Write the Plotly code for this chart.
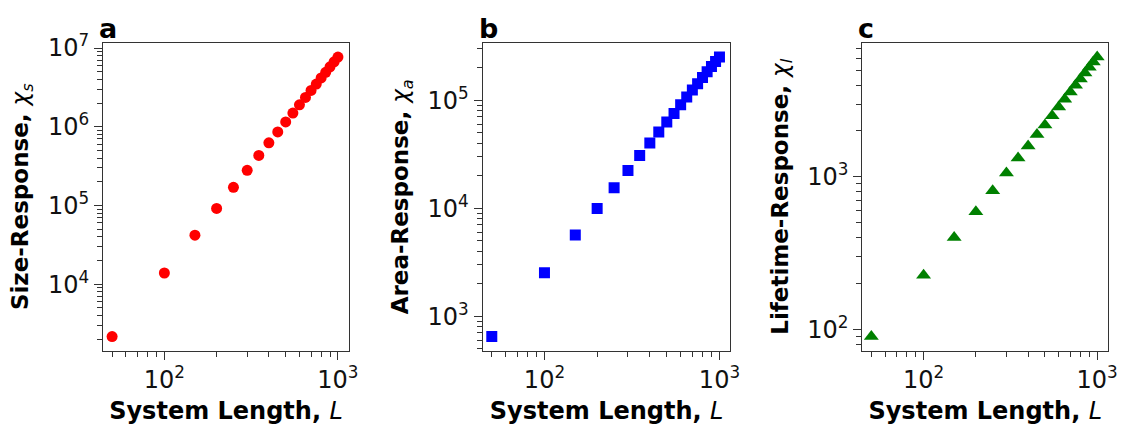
import math
import plotly.graph_objects as go

# ---- data ----
system_length = [50, 100, 150, 200, 250, 300, 350, 400, 450, 500,
                 550, 600, 650, 700, 750, 800, 850, 900, 950, 1000]
size_response = [2170, 13900, 42000, 91800, 170000, 280000, 432000, 625000, 861000, 1150000,
                 1490000, 1900000, 2360000, 2890000, 3490000, 4170000, 4920000, 5760000, 6680000, 7680000]
area_response = [649, 2530, 5650, 9930, 15500, 22400, 30700, 40100, 50700, 62700,
                 75400, 91000, 107000, 124000, 142000, 162000, 183000, 205000, 228000, 251000]
lifetime_response = [89.6, 226, 400, 591, 809, 1060, 1327, 1596, 1893, 2190,
                     2520, 2870, 3230, 3600, 3990, 4390, 4800, 5230, 5660, 6110]

panel_letters = ["a", "b", "c"]
y_titles = ["<b>Size-Response, </b><i>χ<sub>s</sub></i>",
            "<b>Area-Response, </b><i>χ<sub>a</sub></i>",
            "<b>Lifetime-Response, </b><i>χ<sub>l</sub></i>"]
x_title = "<b>System Length, </b><i>L</i>"
series = [size_response, area_response, lifetime_response]
colors = ["#ff0000", "#0000ff", "#008000"]
symbols = ["circle", "square", "triangle-up"]
marker_sizes = [11, 11, 13]

W, H = 1133, 431
FONT = "DejaVu Sans"
AX = "#333333"

x_domains = [(104, 352), (487, 737), (870, 1118)]
y_top, y_bot = 31, 348
x_range = [1.647, 3.063]


def pad_range(vals):
    lo, hi = math.log10(min(vals)), math.log10(max(vals))
    s = hi - lo
    return [lo - 0.05 * s, hi + 0.05 * s]


def decade_ticks(rng):
    lo, hi = math.floor(rng[0]), math.ceil(rng[1])
    major = [10 ** e for e in range(lo, hi + 1) if rng[0] <= e <= rng[1]]
    minor = [m * 10 ** e for e in range(lo, hi + 1) for m in range(2, 10)
             if rng[0] <= math.log10(m * 10 ** e) <= rng[1]]
    return major, minor


def tick_text(v):
    return "10<sup>%d</sup>" % round(math.log10(v))


fig = go.Figure()
layout = dict(
    width=W, height=H, margin=dict(l=0, r=0, t=0, b=0),
    paper_bgcolor="white", plot_bgcolor="white", showlegend=False,
    font=dict(family=FONT, color="black"),
)
annotations = []
for i in range(3):
    xa = "x" if i == 0 else "x%d" % (i + 1)
    ya = "y" if i == 0 else "y%d" % (i + 1)
    fig.add_trace(go.Scatter(
        x=system_length, y=series[i], mode="markers", xaxis=xa, yaxis=ya,
        marker=dict(symbol=symbols[i], size=marker_sizes[i], color=colors[i],
                    line=dict(width=0)),
    ))
    yr = pad_range(series[i])
    ymaj, ymin = decade_ticks(yr)
    xmaj, xmin = decade_ticks(x_range)
    common = dict(
        type="log", showline=True, mirror=True, linecolor=AX, linewidth=1.3,
        ticks="outside", ticklen=8, tickwidth=1.3, tickcolor=AX,
        showgrid=False, zeroline=False, tickmode="array",
        tickfont=dict(family=FONT, size=24, color="#111111"),
    )
    x_key = "xaxis" if i == 0 else "xaxis%d" % (i + 1)
    y_key = "yaxis" if i == 0 else "yaxis%d" % (i + 1)
    d0, d1 = x_domains[i]
    layout[x_key] = dict(
        common, domain=[d0 / W, d1 / W], anchor=ya, range=x_range,
        tickvals=xmaj, ticktext=[tick_text(v) for v in xmaj],
        ticklabelstandoff=0,
        minor=dict(tickmode="array", tickvals=xmin, ticks="outside", ticklen=5,
                   tickwidth=1.1, tickcolor=AX, showgrid=False),
        title=dict(text=x_title, font=dict(family=FONT, size=24, color="black"),
                   standoff=8),
    )
    layout[y_key] = dict(
        common, domain=[(H - y_bot) / H, (H - y_top) / H], anchor=xa, range=yr,
        tickvals=ymaj, ticktext=[tick_text(v) for v in ymaj],
        minor=dict(tickmode="array", tickvals=ymin, ticks="outside", ticklen=5,
                   tickwidth=1.1, tickcolor=AX, showgrid=False),
        title=dict(text=y_titles[i], font=dict(family=FONT, size=23, color="black"),
                   standoff=12),
    )
    annotations.append(dict(
        text="<b>%s</b>" % panel_letters[i], xref="paper", yref="paper",
        x=(d0 - 6) / W, y=(H - 16) / H, xanchor="left", yanchor="middle",
        showarrow=False, font=dict(family=FONT, size=27, color="black"),
    ))

layout["annotations"] = annotations
fig.update_layout(**layout)
fig.write_html("out.html")
